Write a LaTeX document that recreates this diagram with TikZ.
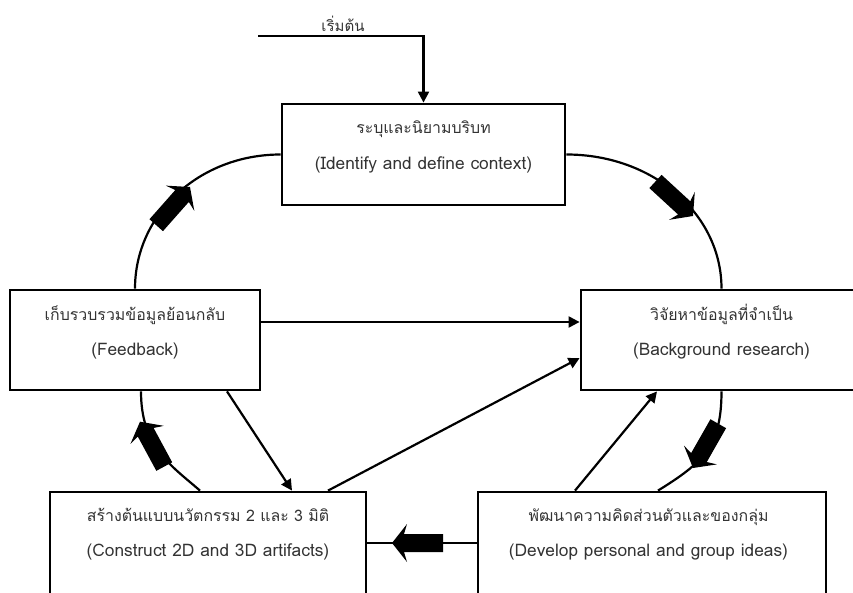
\documentclass[tikz,border=0pt]{standalone}
\usepackage{fontspec}
\newfontfamily\thaifont[Script=Thai]{Loma}
\usetikzlibrary{arrows.meta,calc}
\begin{document}
\begin{tikzpicture}[x=1pt,y=1pt,
  box/.style={draw, line width=2.8pt, inner sep=0pt},
  tha/.style={font=\thaifont\fontsize{15.9}{18}\selectfont, text=black!80, inner sep=0pt, anchor=base},
  eng/.style={font=\thaifont\fontsize{17.3}{20}\selectfont, text=black!80, inner sep=0pt, anchor=base},
  conn/.style={line width=2.2pt},
  arr/.style={conn, -{Triangle[length=11pt,width=11pt]}},
  blockarrow/.pic={\fill[black] (0,0) -- (-15,19) -- (-12,9) -- (-51,9) -- (-51,-9) -- (-12,-9) -- (-15,-19) -- cycle;}
]
\useasboundingbox (0,0) rectangle (853,592);
% boxes
\node[box, minimum width=283pt, minimum height=101pt] (top) at (423.5,437.5) {};
\node[box, minimum width=250pt, minimum height=100pt] (fb) at (135,252) {};
\node[box, minimum width=281pt, minimum height=100pt] (bg) at (721.5,252) {};
\node[box, minimum width=316pt, minimum height=102pt] (con) at (208,49) {};
\node[box, minimum width=348pt, minimum height=102pt] (dev) at (652,49) {};
% texts
\node[tha] (toptha) at ([yshift=-31pt]top.north) {ระบุและนิยามบริบท};
\node[eng] (topeng) at ([yshift=-67pt]top.north) {(Identify and define context)};
\node[tha] (fbtha) at ([yshift=-32pt]fb.north) {เก็บรวบรวมข้อมูลย้อนกลับ};
\node[eng] (fbeng) at ([yshift=-67pt]fb.north) {(Feedback)};
\node[tha] (bgtha) at ([yshift=-32pt]bg.north) {วิจัยหาข้อมูลที่จำเป็น};
\node[eng] (bgeng) at ([yshift=-67pt]bg.north) {(Background research)};
\node[tha] (contha) at ([yshift=-31pt]con.north) {สร้างต้นแบบนวัตกรรม 2 และ 3 มิติ};
\node[eng] (coneng) at ([yshift=-66pt]con.north) {(Construct 2D and 3D artifacts)};
\node[tha] (devtha) at ([yshift=-31pt,xshift=-3.5pt]dev.north) {พัฒนาความคิดส่วนตัวและของกลุ่ม};
\node[eng] (deveng) at ([yshift=-66pt,xshift=-3.5pt]dev.north) {(Develop personal and group ideas)};
% start
\coordinate (start) at (258,556);
\node[tha, font=\thaifont\fontsize{15}{18}\selectfont] (startlbl) at (343,560) {เริ่มต้น};
\draw[arr] (start) -| (top.north);
% cycle curves
\draw[conn] (fb.north) .. controls +(0,74.6) and +(-81.2,0) .. (top.west);
\draw[conn] (top.east) .. controls +(86.7,0) and +(0,74.6) .. (bg.north);
\draw[conn] (bg.south) .. controls +(0,-55) and +(45,28) .. ([xshift=6pt]dev.north);
\draw[conn] ([xshift=6pt]fb.south) .. controls +(0,-55) and +(-30,26) .. ([xshift=-8pt]con.north);
% straight connectors
\draw[arr] ([yshift=18pt]fb.east) -- ([yshift=18pt]bg.west);
\draw[arr] ([xshift=92pt]fb.south) -- ([xshift=84pt]con.north);
\draw[arr] ([xshift=120pt]con.north) -- ([yshift=-18pt]bg.west);
\draw[arr] ([xshift=-77pt]dev.north) -- ([xshift=-64.5pt]bg.south);
\draw[conn] (dev.west) -- (con.east);
% block arrows
\pic[rotate=48.5] at (190,405) {blockarrow};
\pic[rotate=-42.6] at (693,376) {blockarrow};
\pic[rotate=-119.7] at (693,124) {blockarrow};
\pic[rotate=118.4] at (140,170.3) {blockarrow};
\pic[rotate=180] at (392,49) {blockarrow};
\end{tikzpicture}
\end{document}
